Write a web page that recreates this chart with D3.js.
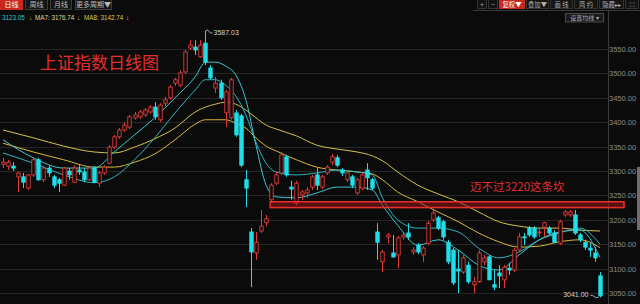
<!DOCTYPE html>
<html>
<head>
<meta charset="utf-8">
<script src="https://cdn.jsdelivr.net/npm/d3@7"></script>
<style>
  html, body { margin: 0; padding: 0; background: #0b0b0b; }
  svg { display: block; font-family: "Liberation Sans", "DejaVu Sans", sans-serif; }
  .cjk { font-family: "Noto Sans CJK SC", "Noto Sans", sans-serif; }
</style>
</head>
<body>
<svg id="chart" width="640" height="304"></svg>
<script>
// daily candles (index 0 = leftmost)
const opens = [3314,3310,3310,3288,3288,3265,3292,3323,3282,3306,
  3288,3282,3271,3300,3277,3302,3298,3282,3306,3275,
  3296,3316,3349,3370,3384,3390,3409,3411,3415,3421,
  3431,3405,3439,3450,3480,3476,3503,3552,3554,3534,
  3562,3511,3470,3480,3419,3409,3419,3413,3282,3175,
  3132,3177,3194,3241,3275,3296,3329,3267,3234,3251,
  3255,3267,3292,3267,3296,3318,3327,3302,3282,3288,
  3255,3265,3302,3282,3175,3114,3165,3132,3128,3165,
  3173,3134,3148,3128,3152,3200,3204,3196,3154,3138,
  3099,3093,3107,3067,3073,3114,3124,3067,3091,3077,
  3101,3097,3138,3165,3183,3183,3173,3185,3183,3173,
  3152,3210,3210,3210,3169,3154,3142,3132,3085];
const highs = [3327,3323,3318,3298,3296,3294,3327,3327,3310,3312,
  3292,3286,3308,3306,3312,3312,3306,3310,3310,3300,
  3312,3353,3374,3388,3400,3415,3421,3425,3429,3435,
  3441,3439,3452,3476,3491,3507,3548,3568,3568,3568,
  3587.03,3517,3493,3487,3466,3491,3425,3417,3302,3183,
  3175,3220,3210,3275,3298,3339,3333,3280,3280,3261,
  3267,3292,3306,3292,3312,3335,3333,3306,3302,3292,
  3286,3296,3316,3286,3193,3138,3173,3169,3167,3173,
  3193,3144,3152,3146,3198,3220,3208,3200,3159,3142,
  3138,3128,3114,3083,3138,3128,3128,3097,3107,3107,
  3112,3142,3173,3173,3187,3187,3183,3196,3187,3179,
  3200,3220,3220,3220,3173,3159,3152,3144,3093];
const lows = [3306,3302,3300,3257,3265,3261,3288,3280,3277,3288,
  3265,3257,3269,3282,3275,3292,3277,3280,3275,3267,
  3292,3314,3345,3366,3380,3386,3405,3407,3411,3417,
  3405,3400,3433,3446,3474,3472,3499,3548,3538,3532,
  3517,3487,3460,3446,3390,3405,3370,3308,3226,3062,
  3118,3173,3187,3235,3271,3292,3288,3241,3230,3241,
  3245,3261,3261,3263,3292,3312,3308,3290,3277,3265,
  3251,3261,3261,3261,3118,3093,3152,3122,3101,3159,
  3159,3128,3130,3114,3148,3196,3179,3159,3109,3066,
  3050,3089,3069,3050,3071,3107,3077,3056,3060,3060,
  3087,3093,3134,3148,3165,3161,3165,3165,3169,3152,
  3148,3206,3206,3169,3154,3138,3124,3114,3041];
const closes = [3318,3318,3306,3296,3277,3292,3323,3282,3306,3296,
  3271,3275,3306,3292,3306,3298,3282,3306,3277,3296,
  3308,3349,3370,3384,3394,3411,3415,3421,3425,3431,
  3411,3435,3446,3472,3487,3501,3544,3558,3548,3558,
  3523,3491,3480,3450,3462,3487,3374,3312,3265,3134,
  3154,3187,3202,3271,3292,3333,3292,3263,3275,3257,
  3261,3288,3271,3288,3308,3329,3312,3296,3296,3271,
  3282,3292,3286,3265,3154,3134,3169,3124,3163,3169,
  3165,3138,3134,3142,3193,3214,3183,3165,3114,3071,
  3095,3122,3073,3073,3132,3122,3077,3062,3085,3103,
  3097,3138,3165,3163,3169,3165,3175,3194,3173,3154,
  3196,3216,3216,3173,3159,3144,3138,3122,3044];

// moving-average lines, read at these candle indexes
const maIdx = [0,6,12,18,22,26,30,34,38,40,42,44,46,48,50,52,54,58,62,66,70,73,75,78,82,86,90,94,98,102,106,110,114,118];
const maFast = [3364,3327,3306,3306,3339,3374,3409,3450,3493,3523,3523,3515,3497,3446,3353,3271,3247,3245,3255,3267,3267,3261,3230,3189,3148,3159,3138,3107,3097,3128,3159,3175,3179,3123];
const maSlow = [3337,3316,3292,3276,3288,3323,3368,3419,3466,3487,3487,3476,3454,3415,3359,3316,3298,3292,3296,3302,3298,3292,3245,3200,3183,3183,3175,3142,3122,3134,3159,3173,3183,3150];
const maYellow1 = [3384,3368,3351,3339,3337,3349,3366,3388,3421,3431,3437,3441,3437,3425,3409,3394,3386,3372,3353,3345,3339,3331,3321,3298,3271,3253,3237,3216,3196,3187,3183,3183,3179,3177];
const maYellow2 = [3357,3339,3323,3308,3308,3318,3335,3364,3396,3405,3405,3405,3398,3388,3368,3351,3341,3323,3308,3302,3298,3294,3282,3257,3237,3216,3196,3173,3155,3144,3146,3155,3159,3143];

const yTicks = [3050,3100,3150,3200,3250,3300,3350,3400,3450,3500,3550];
const bandLow = 3225, bandHigh = 3237, bandFrom = 53;

const RED = "#e23c38", CYAN = "#22dde8";
const svg = d3.select("#chart");
const axisX = 608;

const x = d3.scaleLinear().domain([0, opens.length - 1]).range([3, 600]);
const y = d3.scaleLinear().domain([3050, 3550]).range([293, 49]);

// grid
svg.append("g")
  .selectAll("line")
  .data(yTicks)
  .join("line")
    .attr("x1", 0).attr("x2", axisX)
    .attr("y1", d => Math.round(y(d)) + 0.5).attr("y2", d => Math.round(y(d)) + 0.5)
    .attr("stroke", "#262626");

// right axis
svg.append("g")
  .attr("transform", `translate(${axisX},0)`)
  .call(d3.axisRight(y).tickValues(yTicks).tickFormat(d3.format(".2f")).tickSize(0).tickPadding(1))
  .call(g => g.select(".domain").remove())
  .call(g => g.selectAll("text")
    .attr("fill", "#8e8e8e")
    .attr("font-size", "7.5px")
    .attr("font-family", "Liberation Sans, sans-serif"));

svg.append("line")
  .attr("x1", axisX + 0.5).attr("x2", axisX + 0.5)
  .attr("y1", 10).attr("y2", 304)
  .attr("stroke", "#3a3a3a");

// moving averages
const maLine = vals => d3.line()
  .x((d, i) => x(maIdx[i]))
  .y(d => y(d))
  .curve(d3.curveMonotoneX)(vals);

[[maYellow1, "#d2c24a"], [maYellow2, "#d9b83a"], [maSlow, "#2fb4bf"], [maFast, "#3cc8cf"]]
  .forEach(([vals, col]) => {
    svg.append("path")
      .attr("d", maLine(vals))
      .attr("fill", "none")
      .attr("stroke", col)
      .attr("stroke-width", 1);
  });

// candles
const candles = svg.append("g");
const idx = d3.range(opens.length);
const bodyW = 3.4;

candles.selectAll("line")
  .data(idx)
  .join("line")
    .attr("x1", i => Math.round(x(i)) + 0.5)
    .attr("x2", i => Math.round(x(i)) + 0.5)
    .attr("y1", i => y(highs[i]))
    .attr("y2", i => y(lows[i]))
    .attr("stroke", i => closes[i] >= opens[i] ? RED : CYAN);

candles.selectAll("rect")
  .data(idx)
  .join("rect")
    .attr("x", i => Math.round(x(i)) + 0.5 - bodyW / 2)
    .attr("y", i => y(Math.max(opens[i], closes[i])))
    .attr("width", bodyW)
    .attr("height", i => Math.max(1, Math.abs(y(opens[i]) - y(closes[i]))))
    .attr("fill", i => closes[i] >= opens[i] ? "#0b0b0b" : CYAN)
    .attr("stroke", i => closes[i] >= opens[i] ? RED : CYAN)
    .attr("stroke-width", 0.9);

// high / low markers
const hiI = d3.maxIndex(highs), loI = d3.minIndex(lows);
const hx = Math.round(x(hiI)) + 0.5, hy = y(highs[hiI]);
svg.append("path")
  .attr("d", `M${hx},${hy}l2,-1l3,3h2`)
  .attr("fill", "none").attr("stroke", "#d0d0d0").attr("stroke-width", 0.8);
svg.append("text")
  .attr("x", hx + 8).attr("y", hy + 4.5)
  .attr("font-size", "7px").attr("fill", "#d0d0d0")
  .text(d3.format(".2f")(highs[hiI]));

const lx = Math.round(x(loI)) + 0.5, ly = y(lows[loI]);
svg.append("path")
  .attr("d", `M${lx - 2},${ly}h-3l-3,-2h-2`)
  .attr("fill", "none").attr("stroke", "#d0d0d0").attr("stroke-width", 0.8);
svg.append("text")
  .attr("x", lx - 12).attr("y", ly - 0.5)
  .attr("text-anchor", "end")
  .attr("font-size", "7px").attr("fill", "#d0d0d0")
  .text(d3.format(".2f")(lows[loI]));

// 3220 resistance band
svg.append("rect")
  .attr("x", x(bandFrom) - 1)
  .attr("y", y(bandHigh))
  .attr("width", 624 - x(bandFrom) + 1)
  .attr("height", y(bandLow) - y(bandHigh))
  .attr("fill", "rgba(150,25,25,0.55)")
  .attr("stroke", "#e8302c")
  .attr("stroke-width", 1.5);

svg.append("text").attr("class", "cjk")
  .attr("x", 470).attr("y", 191)
  .attr("font-size", "11.5px").attr("fill", "#e0302c")
  .text("迈不过3220这条坎");

svg.append("text").attr("class", "cjk")
  .attr("x", 40).attr("y", 69)
  .attr("font-size", "17px").attr("fill", "#e0302c")
  .text("上证指数日线图");

// top bar: period tabs
const tabs = [
  {t: "日线", x0: 0, x1: 22, on: true},
  {t: "周线", x0: 25, x1: 47},
  {t: "月线", x0: 50, x1: 71},
  {t: "更多周期▼", x0: 75, x1: 111}
];
const tabG = svg.append("g").attr("class", "cjk");
tabG.selectAll("rect").data(tabs).join("rect")
  .attr("x", d => d.x0 + 0.5).attr("y", -2)
  .attr("width", d => d.x1 - d.x0).attr("height", 11.5)
  .attr("fill", d => d.on ? "#c9281f" : "#161616")
  .attr("stroke", d => d.on ? "#c9281f" : "#3c3c3c");
tabG.selectAll("text").data(tabs).join("text")
  .attr("x", d => (d.x0 + d.x1) / 2 + 0.5).attr("y", 7)
  .attr("text-anchor", "middle")
  .attr("font-size", "7px")
  .attr("fill", d => d.on ? "#ffffff" : "#b8b8b8")
  .text(d => d.t);

// top bar: right tools
const tools = [
  {t: "+", x0: 477, x1: 486},
  {t: "−", x0: 488, x1: 497},
  {t: "复权▼", x0: 499, x1: 524, on: true},
  {t: "叠加▼", x0: 526, x1: 548},
  {t: "画 线", x0: 550, x1: 572},
  {t: "简 约", x0: 574, x1: 597},
  {t: "隐藏▸▸", x0: 599, x1: 623},
  {t: "⛶", x0: 625, x1: 638}
];
svg.append("line")
  .attr("x1", 473).attr("x2", 640).attr("y1", 10.5).attr("y2", 10.5)
  .attr("stroke", "#3a3a3a");
const toolG = svg.append("g").attr("class", "cjk");
toolG.selectAll("rect").data(tools).join("rect")
  .attr("x", d => d.x0 + 0.5).attr("y", -2)
  .attr("width", d => d.x1 - d.x0).attr("height", 10.5)
  .attr("fill", d => d.on ? "#c9281f" : "#141414")
  .attr("stroke", d => d.on ? "#c9281f" : "#333");
toolG.selectAll("text").data(tools).join("text")
  .attr("x", d => (d.x0 + d.x1) / 2 + 0.5).attr("y", 6.8)
  .attr("text-anchor", "middle")
  .attr("font-size", "6.3px")
  .attr("fill", d => d.on ? "#ffffff" : "#b0b0b0")
  .text(d => d.t);

svg.append("rect")
  .attr("x", 565.5).attr("y", 13.5).attr("width", 38).attr("height", 8.5)
  .attr("fill", "#1a1a1a").attr("stroke", "#4a4a4a");
svg.append("text").attr("class", "cjk")
  .attr("x", 584.5).attr("y", 20)
  .attr("text-anchor", "middle")
  .attr("font-size", "6px").attr("fill", "#b0b0b0")
  .text("设置均线 ▾");

// legend row
const legend = [
  {t: "3123.05", x: 2, c: "#2fc6d0"},
  {t: "↓", x: 29, c: "#e8b020"},
  {t: "MA7: 3176.74", x: 35, c: "#e4da8a"},
  {t: "↓", x: 77, c: "#e8b020"},
  {t: "MA8: 3142.74", x: 84, c: "#dccb50"},
  {t: "↓", x: 126, c: "#e8b020"}
];
svg.append("g").selectAll("text").data(legend).join("text")
  .attr("x", d => d.x).attr("y", 20)
  .attr("font-size", "6.3px")
  .attr("fill", d => d.c)
  .text(d => d.t);

// scrollbar stub at right edge
svg.append("rect")
  .attr("x", 637).attr("y", 167).attr("width", 3).attr("height", 63)
  .attr("fill", "#6e6e6e");
</script>
</body>
</html>
